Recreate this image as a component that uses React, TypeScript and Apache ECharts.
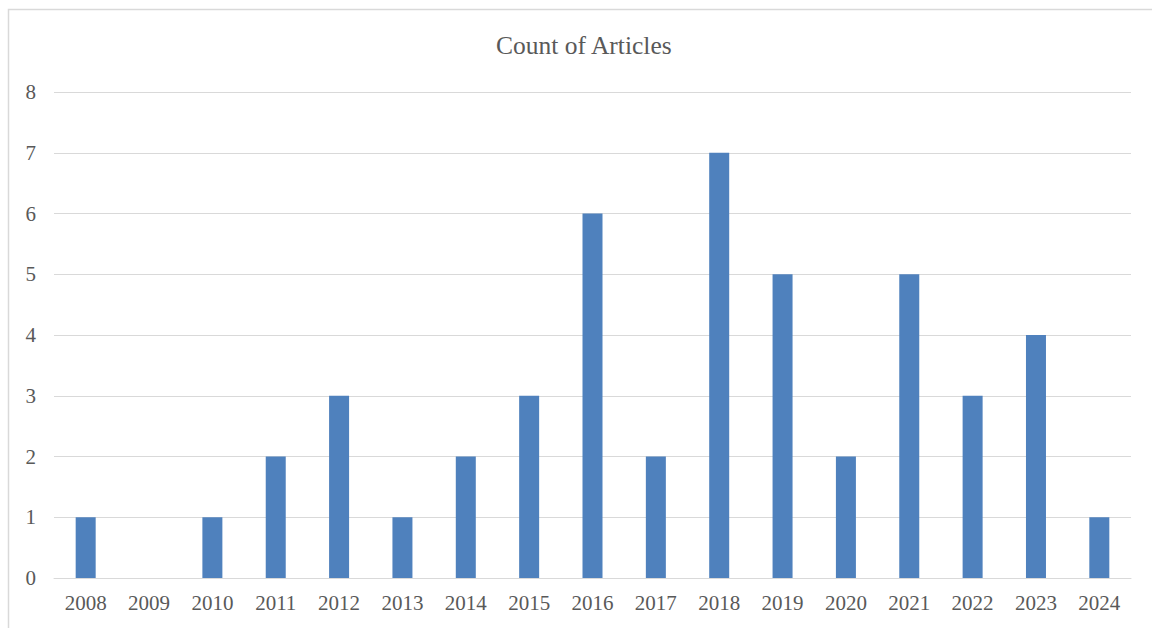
import React, { useEffect, useRef } from "react";
import * as echarts from "echarts";

const years = ["2008", "2009", "2010", "2011", "2012", "2013", "2014", "2015", "2016", "2017", "2018", "2019", "2020", "2021", "2022", "2023", "2024"];
const counts = [1, 0, 1, 2, 3, 1, 2, 3, 6, 2, 7, 5, 2, 5, 3, 4, 1];

export default function App() {
  const ref = useRef<HTMLDivElement>(null);
  useEffect(() => {
    if (!ref.current) return;
    const chart = echarts.init(ref.current, undefined, { renderer: "svg" });
    const font = "'Liberation Serif', 'Times New Roman', serif";
    chart.setOption({
      animation: false,
      backgroundColor: "#ffffff",
      title: {
        text: "Count of Articles",
        left: 496,
        top: 32,
        padding: 0,
        textStyle: { fontFamily: font, fontSize: 25.5, fontWeight: "normal", color: "#595959" },
      },
      graphic: [
        {
          type: "rect",
          shape: { x: 8.5, y: 9.5, width: 1300, height: 800 },
          style: { fill: "none", stroke: "#d9d9d9", lineWidth: 1.5 },
          silent: true,
        },
      ],
      grid: { left: 54, right: 21, top: 92, bottom: 50, containLabel: false },
      xAxis: {
        type: "category",
        data: years,
        axisLine: { show: true, lineStyle: { color: "#d9d9d9", width: 1 } },
        axisTick: { show: false },
        axisLabel: { fontFamily: font, fontSize: 21, color: "#595959", margin: 14, interval: 0 },
      },
      yAxis: {
        type: "value",
        min: 0,
        max: 8,
        interval: 1,
        axisLine: { show: false },
        axisTick: { show: false },
        splitLine: { lineStyle: { color: "#d9d9d9", width: 1 } },
        axisLabel: { fontFamily: font, fontSize: 21, color: "#595959", margin: 18 },
      },
      series: [
        {
          type: "bar",
          data: counts,
          barWidth: 20,
          itemStyle: { color: "#4f81bd" },
        },
      ],
    });
    return () => chart.dispose();
  }, []);
  return (
    <div
      ref={ref}
      style={{ position: "fixed", left: 0, top: 0, width: 1152, height: 628, overflow: "hidden" }}
    />
  );
}
